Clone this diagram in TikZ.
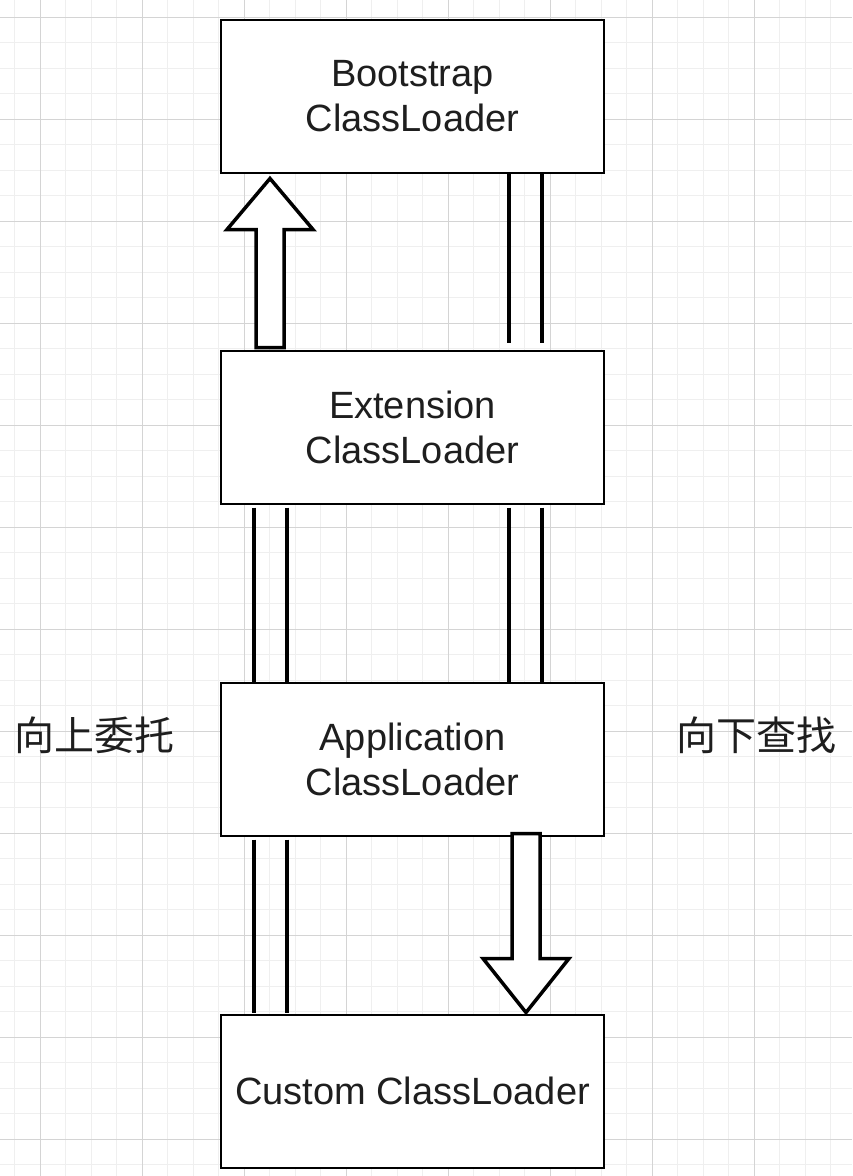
\documentclass[tikz,border=0pt]{standalone}
\usepackage{fontspec}
\setmainfont{Liberation Sans}
\newfontfamily\cjk{Noto Sans CJK SC}
\usetikzlibrary{calc}
\definecolor{minorgrid}{HTML}{EFEFEF}
\definecolor{majorgrid}{HTML}{D4D4D4}
\definecolor{txt}{HTML}{1E1E1E}
\tikzset{
  loaderbox/.style={draw=black, line width=2pt, fill=white, minimum width=383pt, minimum height=153pt,
    align=center, text=txt, font=\fontsize{38}{45}\selectfont, inner sep=0pt, outer sep=0pt},
  sidelabel/.style={text=txt, font=\cjk\fontsize{40}{45}\selectfont, inner sep=0pt},
  blockarrow/.style={draw=black, line width=3.5pt, fill=white, line join=miter},
  linkline/.style={draw=black, line width=4pt},
}
\begin{document}
\begin{tikzpicture}[x=1pt,y=-1pt]
\useasboundingbox (0,0) rectangle (852,1176);
\fill[white] (0,0) rectangle (852,1176);
\begin{scope}
\clip (0,0) rectangle (852,1176);
\foreach \i in {0,...,33} {
  \draw[minorgrid, line width=1pt] ({14.5+25.5*\i},0) -- ({14.5+25.5*\i},1176);
}
\foreach \j in {0,...,47} {
  \draw[minorgrid, line width=1pt] (0,{-8.5+25.5*\j}) -- (852,{-8.5+25.5*\j});
}
\foreach \i in {0,...,8} {
  \draw[majorgrid, line width=1pt] ({40+102*\i},0) -- ({40+102*\i},1176);
}
\foreach \j in {0,...,11} {
  \draw[majorgrid, line width=1pt] (0,{17+102*\j}) -- (852,{17+102*\j});
}
\end{scope}

\node[loaderbox] (boot) at (412.5,96) {Bootstrap\\ClassLoader};
\node[loaderbox] (ext) at (412.5,427) {Extension\\ClassLoader};
\node[loaderbox] (app) at (412.5,759) {Application\\ClassLoader};
\node[loaderbox] (cust) at (412.5,1091) {Custom ClassLoader};

\node[sidelabel] (up) at (94,735) {向上委托};
\node[sidelabel] (down) at (756,735) {向下查找};

% links between Bootstrap and Extension (right)
\draw[linkline] ($(boot.south west)+(288,0)$) -- ($(ext.north west)+(288,-8)$);
\draw[linkline] ($(boot.south west)+(321,0)$) -- ($(ext.north west)+(321,-8)$);
% links between Extension and Application
\draw[linkline] ($(ext.south west)+(33,4)$) -- ($(app.north west)+(33,0)$);
\draw[linkline] ($(ext.south west)+(66,4)$) -- ($(app.north west)+(66,0)$);
\draw[linkline] ($(ext.south west)+(288,4)$) -- ($(app.north west)+(288,0)$);
\draw[linkline] ($(ext.south west)+(321,4)$) -- ($(app.north west)+(321,0)$);
% links between Application and Custom (left)
\draw[linkline] ($(app.south west)+(33,4)$) -- ($(cust.north west)+(33,-2)$);
\draw[linkline] ($(app.south west)+(66,4)$) -- ($(cust.north west)+(66,-2)$);

% up block arrow
\coordinate (ua) at ($(ext.north west)+(49,-3)$);
\coordinate (ut) at ($(boot.south west)+(49,6)$);
\draw[blockarrow] ($(ua)+(-14,0)$) -- ($(ut)+(-14,51)$) -- ($(ut)+(-43,51)$) -- (ut)
  -- ($(ut)+(43,51)$) -- ($(ut)+(14,51)$) -- ($(ua)+(14,0)$) -- cycle;

% down block arrow
\coordinate (da) at ($(app.south west)+(305,-2)$);
\coordinate (dt) at ($(cust.north west)+(305,-2)$);
\draw[blockarrow] ($(da)+(-14,0)$) -- ($(dt)+(-14,-54)$) -- ($(dt)+(-43,-54)$) -- (dt)
  -- ($(dt)+(43,-54)$) -- ($(dt)+(14,-54)$) -- ($(da)+(14,0)$) -- cycle;
\end{tikzpicture}
\end{document}
